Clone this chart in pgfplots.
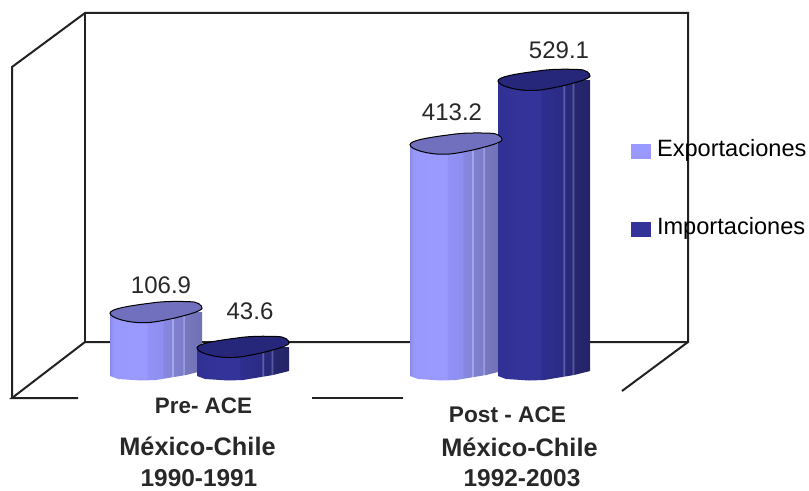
\documentclass[border=0pt]{standalone}
\usepackage{pgfplots}
\pgfplotsset{compat=1.18}
\usepackage{fontspec}
\setmainfont{Liberation Sans}

\definecolor{expo}{RGB}{153,153,255}
\definecolor{impo}{RGB}{51,51,153}
\definecolor{expotop}{RGB}{112,112,190}
\definecolor{impotop}{RGB}{38,38,122}
\definecolor{frameline}{RGB}{34,34,34}
\definecolor{labeltext}{RGB}{40,40,40}

% Faceted horizontal colouring of the cylinder bodies.
% TikZ stretches the span 25bp-75bp of a shading over the width of the path.
\pgfdeclarehorizontalshading{expobody}{100bp}{
  rgb(0bp)=(0.54,0.54,0.92); rgb(25bp)=(0.54,0.54,0.92); rgb(27bp)=(0.60,0.60,0.99);
  rgb(45bp)=(0.60,0.60,1);
  rgb(45.5bp)=(0.57,0.57,0.97); rgb(53.5bp)=(0.56,0.56,0.94);
  rgb(54bp)=(0.53,0.53,0.88); rgb(58.25bp)=(0.52,0.52,0.86);
  rgb(58.75bp)=(0.66,0.66,0.92); rgb(59.25bp)=(0.66,0.66,0.92);
  rgb(59.75bp)=(0.50,0.50,0.82); rgb(64.25bp)=(0.49,0.49,0.80);
  rgb(64.75bp)=(0.60,0.60,0.86); rgb(65.25bp)=(0.60,0.60,0.86);
  rgb(65.75bp)=(0.47,0.47,0.76); rgb(75bp)=(0.44,0.44,0.70); rgb(100bp)=(0.44,0.44,0.70)}
\pgfdeclarehorizontalshading{impobody}{100bp}{
  rgb(0bp)=(0.19,0.19,0.58); rgb(25bp)=(0.19,0.19,0.58); rgb(37.5bp)=(0.20,0.20,0.60);
  rgb(48bp)=(0.20,0.20,0.60); rgb(48.5bp)=(0.18,0.18,0.56);
  rgb(60bp)=(0.17,0.17,0.52); rgb(60.5bp)=(0.36,0.36,0.66);
  rgb(61bp)=(0.36,0.36,0.66); rgb(61.5bp)=(0.16,0.16,0.48);
  rgb(65bp)=(0.16,0.16,0.47); rgb(65.5bp)=(0.34,0.34,0.62);
  rgb(66bp)=(0.34,0.34,0.62); rgb(66.5bp)=(0.15,0.15,0.44);
  rgb(75bp)=(0.14,0.14,0.40); rgb(100bp)=(0.14,0.14,0.40)}

% Tilted cap of a cylinder; units are 3/4 pt
\newcommand{\capoutline}{(-46,-1) .. controls (-46,3) and (-30,6) .. (-6,9)
  .. controls (6,11) and (22,11) .. (34,10.5)
  .. controls (42,10.5) and (46,7) .. (46,4)
  .. controls (46,1) and (30,-3) .. (18,-6)
  .. controls (8,-8) and (-2,-10.5) .. (-12,-10.5)
  .. controls (-26,-11) and (-46,-6) .. (-46,-1) -- cycle}

\pgfdeclareplotmark{expocap}{\path[x=0.75pt,y=0.75pt,fill=expotop,draw=black,line width=0.75pt] \capoutline;}
\pgfdeclareplotmark{impocap}{\path[x=0.75pt,y=0.75pt,fill=impotop,draw=black,line width=0.75pt] \capoutline;}

\pgfplotsset{
  canvas/.style={
    scale only axis, width=606.75pt, height=368.25pt,
    hide axis, clip=false, xmin=0, xmax=809,
  },
  expobar/.style={draw=none, shade, shading=expobody, forget plot},
  impobar/.style={draw=none, shade, shading=impobody, forget plot},
  cap/.style={only marks, mark=#1, forget plot},
}
\tikzset{
  lbl/.style={font=\fontsize{18}{18}\selectfont, text=labeltext, inner sep=0pt},
  cat/.style={font=\bfseries\fontsize{#1}{#1}\selectfont, text=labeltext, inner sep=0pt},
}

\begin{document}
\begin{tikzpicture}
\useasboundingbox (0,0) rectangle (606.75pt,368.25pt);
% Box of the chart and all lettering, in units of the drawing area
\begin{axis}[canvas, ymin=0, ymax=491, y dir=reverse]
  \addplot[frameline, line width=1.5pt, line join=miter] coordinates
    {(12,398) (12,67) (85,13) (688,13) (688,342) (622,391)};
  \addplot[frameline, line width=1.5pt] coordinates {(85,13) (85,342)};
  \addplot[frameline, line width=1.5pt] coordinates {(78,398) (12,398) (85,342) (688,342)};
  \addplot[frameline, line width=1.5pt] coordinates {(312,398) (403,398)};

  \node[lbl] at (axis cs:161,285) {106.9};
  \node[lbl] at (axis cs:250,311) {43.6};
  \node[lbl] at (axis cs:452,112) {413.2};
  \node[lbl] at (axis cs:559,50) {529.1};

  \node[cat=16.8] at (axis cs:203.5,406) {Pre- ACE};
  \node[cat=19] at (axis cs:197.5,446) {México-Chile};
  \node[cat=18.3] at (axis cs:199,478.5) {1990-1991};
  \node[cat=17] at (axis cs:507.5,415) {Post - ACE};
  \node[cat=19] at (axis cs:519.5,447) {México-Chile};
  \node[cat=18.3] at (axis cs:522,478.5) {1992-2003};
\end{axis}

% Exports and imports of each period, in the units of the labels;
% each body runs from its value down to a rounded foot just below zero
\begin{axis}[canvas, ymin=-218.18, ymax=674.55,
    legend style={at={(axis cs:631,421.6)}, anchor=north west, draw=none, fill=none,
      row sep=43.75pt, inner sep=0pt, outer sep=0pt,
      nodes={inner sep=0pt, font=\fontsize{17.7}{17.7}\selectfont, text=black}},
    legend cell align=left]
  \addlegendimage{area legend, legend image code/.code={\fill[expo,draw=none] (0pt,-7.5pt) rectangle (15pt,3.5pt); \path[draw=none,fill=none] (15pt,0pt) -- (19.5pt,0pt);}}
  \addlegendentry{Exportaciones}
  \addlegendimage{area legend, legend image code/.code={\fill[impo,draw=none] (0pt,-7.5pt) rectangle (15pt,3.5pt); \path[draw=none,fill=none] (15pt,0pt) -- (19.5pt,0pt);}}
  \addlegendentry{Importaciones}

  % Pre-ACE 1990-1991
  \addplot[expobar] coordinates {(110,106.9) (202,106.9) (202,0) (186,-7.3) (156,-16.4) (141,-17.3) (118,-14.5) (110,-9.1)} -- cycle;
  \addplot[cap=expocap] coordinates {(156,106.9)};
  \addplot[impobar] coordinates {(197,43.6) (289,43.6) (289,0) (273,-7.3) (243,-16.4) (228,-17.3) (205,-14.5) (197,-9.1)} -- cycle;
  \addplot[cap=impocap] coordinates {(243,43.6)};
  % Post-ACE 1992-2003
  \addplot[expobar] coordinates {(410,413.2) (502,413.2) (502,0) (486,-7.3) (456,-16.4) (441,-17.3) (418,-14.5) (410,-9.1)} -- cycle;
  \addplot[cap=expocap] coordinates {(456,413.2)};
  \addplot[impobar] coordinates {(498,529.1) (590,529.1) (590,0) (574,-7.3) (544,-16.4) (529,-17.3) (506,-14.5) (498,-9.1)} -- cycle;
  \addplot[cap=impocap] coordinates {(544,529.1)};
\end{axis}
\end{tikzpicture}
\end{document}
